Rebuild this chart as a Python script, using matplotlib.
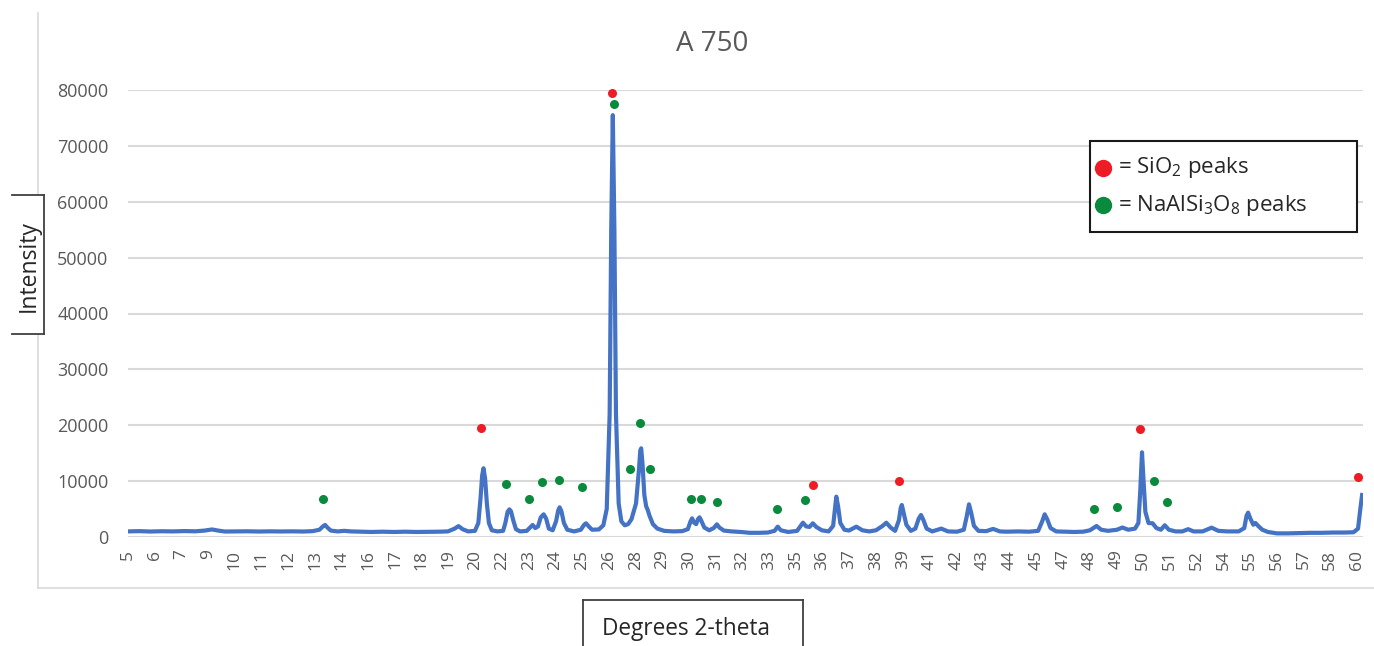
import matplotlib
matplotlib.use("Agg")
import matplotlib.pyplot as plt
from matplotlib.lines import Line2D
from matplotlib.patches import Rectangle
import numpy as np

plt.rcParams['font.family'] = ['Open Sans', 'DejaVu Sans']
plt.rcParams['mathtext.fontset'] = 'custom'
plt.rcParams['mathtext.rm'] = 'Open Sans'
plt.rcParams['mathtext.it'] = 'Open Sans'

# ---- XRD trace (degrees 2-theta, counts) ----
two_theta = [
    5.0, 5.5, 6.0, 6.5, 7.0, 7.5, 8.0, 8.4, 8.73, 9.0, 9.3, 9.8, 10.3, 10.8, 11.3,
    11.8, 12.3, 12.8, 13.2, 13.5, 13.65, 13.75, 13.85, 14.0, 14.3, 14.6, 14.9, 15.3,
    15.8, 16.3, 16.8, 17.3, 17.8, 18.3, 18.8, 19.2, 19.5, 19.67, 19.85, 20.1, 20.4,
    20.55, 20.65, 20.72, 20.78, 20.85, 20.93, 21.02, 21.15, 21.4, 21.65, 21.75, 21.85,
    21.93, 22.0, 22.1, 22.22, 22.4, 22.7, 22.85, 22.96, 23.08, 23.2, 23.32, 23.45,
    23.56, 23.68, 23.85, 24.0, 24.1, 24.16, 24.24, 24.35, 24.5, 24.8, 25.1, 25.25,
    25.33, 25.45, 25.6, 25.9, 26.1, 26.25, 26.38, 26.45, 26.52, 26.59, 26.66, 26.78,
    26.9, 27.05, 27.2, 27.35, 27.55, 27.68, 27.74, 27.78, 27.84, 27.92, 28.0, 28.07,
    28.15, 28.3, 28.5, 28.8, 29.2, 29.6, 29.85, 29.97, 30.04, 30.12, 30.22, 30.3,
    30.37, 30.45, 30.58, 30.8, 31.0, 31.14, 31.25, 31.45, 31.8, 32.2, 32.6, 33.0,
    33.4, 33.7, 33.84, 33.98, 34.3, 34.7, 34.96, 35.1, 35.25, 35.4, 35.55, 35.8,
    36.1, 36.3, 36.38, 36.44, 36.52, 36.62, 36.8, 37.0, 37.33, 37.6, 37.9, 38.2,
    38.5, 38.66, 38.85, 39.05, 39.22, 39.3, 39.35, 39.42, 39.55, 39.75, 39.95, 40.1,
    40.2, 40.3, 40.45, 40.7, 41.1, 41.4, 41.8, 42.1, 42.22, 42.33, 42.43, 42.55,
    42.75, 43.1, 43.4, 43.7, 44.0, 44.5, 45.0, 45.4, 45.58, 45.69, 45.8, 45.95,
    46.2, 46.6, 47.0, 47.4, 47.7, 47.99, 48.2, 48.5, 48.9, 49.14, 49.4, 49.7,
    49.85, 49.93, 50.01, 50.08, 50.16, 50.3, 50.48, 50.65, 50.85, 51.02, 51.2, 51.5,
    51.8, 52.06, 52.3, 52.7, 53.1, 53.4, 53.8, 54.3, 54.55, 54.65, 54.72, 54.82,
    54.95, 55.05, 55.17, 55.35, 55.6, 56.0, 56.5, 57.0, 57.5, 58.0, 58.5, 59.0,
    59.4, 59.6, 59.7, 59.78,
]
intensity = [
    1000, 1050, 980, 1030, 1000, 1060, 1020, 1150, 1350, 1150, 980, 1000, 1020, 980, 1010,
    990, 1010, 980, 1050, 1300, 1900, 2150, 1700, 1150, 1000, 1100, 1000, 950,
    900, 950, 900, 950, 900, 920, 950, 1000, 1500, 1950, 1400, 1000, 1100,
    2500, 7000, 11000, 12300, 10500, 6000, 2500, 1200, 1000, 1100, 2500, 4500,
    4950, 4600, 3000, 1400, 1000, 1100, 1700, 2150, 1600, 1900, 3500, 4060,
    3300, 1500, 1200, 2800, 4800, 5310, 4600, 2500, 1300, 1000, 1300, 2200,
    2450, 1900, 1300, 1350, 2100, 5000, 22000, 55000, 75500, 55000, 22000, 6000,
    2800, 2100, 2300, 3200, 6000, 12000, 15500, 15870, 13000, 7500, 5500, 4830,
    3800, 2300, 1500, 1100, 1000, 1050, 1400, 2800, 3340, 2600, 2300, 3200,
    3520, 2900, 1700, 1200, 1600, 2270, 1700, 1150, 1000, 900, 750, 750,
    800, 1100, 1850, 1200, 900, 1100, 2560, 1900, 1800, 2450, 1800, 1200,
    1000, 2000, 5000, 7220, 5500, 2500, 1300, 1150, 1850, 1200, 1000, 1200,
    2000, 2560, 1700, 1100, 3000, 5200, 5730, 4500, 2200, 1100, 1500, 3300,
    3940, 3100, 1500, 1000, 1500, 1000, 950, 1300, 3500, 5850, 4300, 2000,
    1100, 1050, 1450, 1000, 950, 1000, 950, 1100, 2800, 4060, 3200, 1600,
    1000, 950, 900, 950, 1200, 1970, 1300, 1100, 1300, 1700, 1300, 1500,
    2500, 8000, 15160, 10000, 4500, 2500, 2450, 1600, 1300, 2100, 1300, 1000,
    1000, 1400, 1000, 1000, 1670, 1100, 1000, 1000, 1600, 3800, 4360, 3300,
    2200, 2500, 1970, 1300, 900, 650, 650, 700, 750, 750, 800, 800,
    850, 1500, 5000, 7520,
]

# ---- phase markers ----
sio2_theta = [20.67, 26.47, 35.40, 39.21, 49.94, 59.61]
sio2_int = [19450, 79400, 9300, 10020, 19270, 10680]

albite_theta = [13.66, 21.78, 22.81, 23.36, 24.15, 25.16, 26.59, 27.30, 27.73, 28.19,
                30.00, 30.44, 31.15, 33.82, 35.06, 47.87, 48.90, 50.55, 51.10]
albite_int = [6750, 9480, 6800, 9780, 10200, 8890, 77430, 12110, 20350, 12110,
              6800, 6800, 6200, 5070, 6620, 5070, 5310, 10020, 6260]

# category labels shown along the x axis
x_tick_labels = ['5', '6', '7', '9', '10', '11', '12', '13', '14', '16', '17', '18', '19',
                 '20', '22', '23', '24', '25', '26', '28', '29', '30', '31', '32', '33',
                 '35', '36', '37', '38', '39', '41', '42', '43', '44', '45', '47', '48',
                 '49', '50', '51', '52', '54', '55', '56', '57', '58', '60']
y_ticks = [0, 10000, 20000, 30000, 40000, 50000, 60000, 70000, 80000]

BLUE = '#4472C4'
RED = '#EE1C25'
GREEN = '#0A8A3C'
GRID = '#D9D9D9'
TEXT = '#595959'
DARK = '#262626'

W, H = 1374, 646
fig = plt.figure(figsize=(W / 100, H / 100), dpi=100)


def fx(px):
    return px / W


def fy(py):
    return 1 - py / H


# chart-area border (left and bottom edges)
fig.add_artist(Line2D([fx(38), fx(38)], [fy(13), fy(588)], color=GRID, lw=1.2))
fig.add_artist(Line2D([fx(38), fx(1374)], [fy(588), fy(588)], color=GRID, lw=1.2))

ax = fig.add_axes([fx(128), fy(537), fx(1363) - fx(128), fy(90) - fy(537)])
ax.plot(two_theta, intensity, color=BLUE, lw=3.0, solid_joinstyle='round', zorder=3)
ax.plot(sio2_theta, sio2_int, 'o', color=RED, ms=6.5, mec='none', zorder=4, clip_on=False)
ax.plot(albite_theta, albite_int, 'o', color=GREEN, ms=6.5, mec='none', zorder=4, clip_on=False)

ax.set_xlim(5.0, 59.82)
ax.set_ylim(0, 80000)
ax.set_yticks(y_ticks)
ax.set_yticklabels([str(v) for v in y_ticks], fontsize=13, color=TEXT)
ax.set_xticks(np.linspace(5.0, 59.556, len(x_tick_labels)))
ax.set_xticklabels(x_tick_labels, rotation=90, fontsize=12.5, color=TEXT, va='top')
ax.tick_params(axis='both', length=0)
ax.tick_params(axis='y', pad=14)
ax.tick_params(axis='x', pad=9)
ax.grid(axis='y', color=GRID, lw=1.5)
ax.set_axisbelow(True)
for s in ax.spines.values():
    s.set_visible(False)

fig.text(fx(712), fy(44), 'A 750', ha='center', va='center', fontsize=20, color=TEXT)

# y-axis title box
fig.add_artist(Rectangle((fx(12), fy(334)), fx(44) - fx(12), fy(195) - fy(334),
                         facecolor='white', edgecolor='none', zorder=5))
box_c = '#404040'
for xs, ys in [([12, 44], [195, 195]), ([44, 44], [195, 334]), ([12, 44], [334, 334])]:
    fig.add_artist(Line2D([fx(v) for v in xs], [fy(v) for v in ys], color=box_c, lw=1.3, zorder=6))
fig.text(fx(29), fy(266), 'Intensity', rotation=90, ha='center', va='center',
         fontsize=16.5, color=DARK, zorder=7)

# x-axis title box
for xs, ys in [([583, 803], [600, 600]), ([583, 583], [600, 646]), ([803, 803], [600, 646])]:
    fig.add_artist(Line2D([fx(v) for v in xs], [fy(v) for v in ys], color=box_c, lw=1.3))
fig.text(fx(686), fy(629), 'Degrees 2-theta', ha='center', va='center',
         fontsize=16.3, color=DARK)

# legend box
fig.add_artist(Rectangle((fx(1090), fy(232)), fx(1357) - fx(1090), fy(141) - fy(232),
                         facecolor='white', edgecolor='#1a1a1a', lw=1.5, zorder=5))
fig.add_artist(Line2D([fx(1103)], [fy(168)], marker='o', ms=12.5, color=RED, mec='none', zorder=6))
fig.add_artist(Line2D([fx(1103)], [fy(205)], marker='o', ms=12.5, color=GREEN, mec='none', zorder=6))
fig.text(fx(1118), fy(168), r'= SiO$\mathrm{_2}$ peaks', ha='left', va='center',
         fontsize=16, color=DARK, zorder=7)
fig.text(fx(1118), fy(205), r'= NaAlSi$\mathrm{_3}$O$\mathrm{_8}$ peaks', ha='left', va='center',
         fontsize=16, color=DARK, zorder=7)

fig.savefig('out.png', dpi=100, facecolor='white')
